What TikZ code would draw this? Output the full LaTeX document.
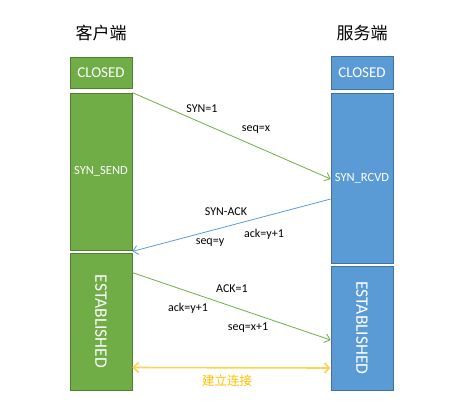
\documentclass[tikz,border=0pt]{standalone}
\usepackage{fontspec}
\setmainfont{Carlito}
\newfontfamily\cjk{Noto Sans CJK SC}
\usetikzlibrary{positioning, arrows.meta}
\definecolor{cligreen}{HTML}{70AD47}
\definecolor{cliedge}{HTML}{507E32}
\definecolor{srvblue}{HTML}{5B9BD5}
\definecolor{srvedge}{HTML}{41719C}
\definecolor{linkyellow}{HTML}{FFC000}

\begin{document}
\begin{tikzpicture}[x=1pt, y=-1pt,
    every state/.style={rectangle, draw, line width=0.8pt, minimum width=62pt, inner sep=0pt, text=white},
    cli state/.style={every state, fill=cligreen, draw=cliedge},
    srv state/.style={every state, fill=srvblue, draw=srvedge},
    msg/.style={line width=0.8pt, -{Straight Barb[length=5pt, width=9pt]}},
    label text/.style={font=\fontsize{12}{13}\selectfont, inner sep=1pt}]

    \useasboundingbox (0,0) rectangle (462,418);

    % Titles
    \node[font=\cjk\fontsize{17}{19}\selectfont] (cli-title) at (101,33) {客户端};
    \node[font=\cjk\fontsize{17}{19}\selectfont] (srv-title) at (362,33) {服务端};

    % Client states - green boxes
    \node[cli state, minimum height=31pt, font=\fontsize{15}{16}\selectfont] (cli-closed) at (101,72.5) {CLOSED};
    \node[cli state, minimum height=157pt, font=\fontsize{12.5}{13}\selectfont] (cli-send) at (101,171.5) {SYN\_SEND};
    \node[cli state, minimum height=137pt, font=\fontsize{17.5}{18}\selectfont] (cli-est) at (101,321.5) {\rotatebox{-90}{ESTABLISHED}};

    % Server states - blue boxes
    \node[srv state, minimum height=33pt, font=\fontsize{15}{16}\selectfont] (srv-closed) at (362,72.5) {CLOSED};
    \node[srv state, minimum height=170pt, font=\fontsize{12.5}{13}\selectfont] (srv-rcvd) at (362,178) {SYN\_RCVD};
    \node[srv state, minimum height=124pt, font=\fontsize{17.5}{18}\selectfont] (srv-est) at (362,328) {\rotatebox{-90}{ESTABLISHED}};

    % Message end points on the box edges
    \coordinate (syn-from) at (cli-send.north east);
    \coordinate (syn-to) at ([yshift=-1pt]srv-rcvd.west);
    \coordinate (synack-from) at ([yshift=-21pt]srv-rcvd.west);
    \coordinate (synack-to) at ([yshift=-1pt]cli-send.south east);
    \coordinate (ack-from) at ([yshift=-20pt]cli-est.north east);
    \coordinate (ack-to) at ([yshift=-12pt]srv-est.west);
    \coordinate (link-left) at ([yshift=-46pt]cli-est.east);
    \coordinate (link-right) at ([yshift=-40pt]srv-est.west);

    % SYN
    \draw[msg, cligreen] (syn-from) -- (syn-to);
    \node[label text] (syn-flag) at (202,109) {SYN=1};
    \node[label text] (syn-seq) at (256,130) {seq=x};

    % SYN-ACK
    \draw[msg, srvblue] (synack-from) -- (synack-to);
    \node[label text] (synack-flag) at (226,212) {SYN-ACK};
    \node[label text] (synack-ack) at (264,234) {ack=y+1};
    \node[label text] (synack-seq) at (210,243) {seq=y};

    % ACK
    \draw[msg, cligreen] (ack-from) -- (ack-to);
    \node[label text] (ack-flag) at (232,289) {ACK=1};
    \node[label text] (ack-ack) at (188,308) {ack=y+1};
    \node[label text] (ack-seq) at (248,328) {seq=x+1};

    % Connection established
    \draw[line width=1.6pt, linkyellow!70, {Straight Barb[length=5pt, width=10pt]}-{Straight Barb[length=5pt, width=10pt]}] (link-left) -- (link-right);
    \node[font=\cjk\fontsize{12.5}{14}\selectfont, text=linkyellow] (link-label) at (227,381) {建立连接};

\end{tikzpicture}
\end{document}
